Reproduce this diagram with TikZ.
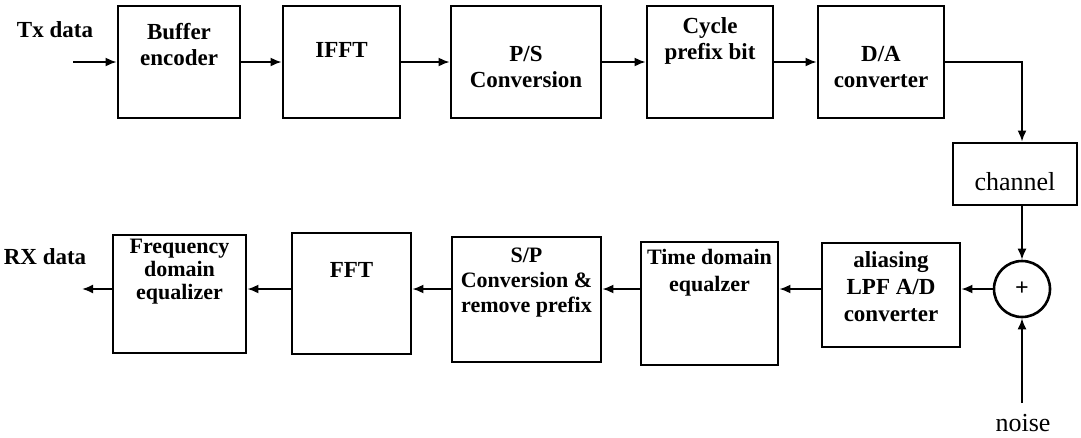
\documentclass[tikz,border=0pt]{standalone}
\usepackage{fontspec}
\setmainfont{Liberation Serif}
\usetikzlibrary{arrows.meta}
\begin{document}
\begin{tikzpicture}[x=1pt,y=-1pt,
    blk/.style={draw,line width=2.8pt,inner sep=0pt},
    lbl/.style={font=\fontsize{23}{26}\selectfont\bfseries,align=center,inner sep=0pt},
    plain/.style={font=\fontsize{26}{30}\selectfont,inner sep=0pt},
    sig/.style={line width=1.9pt,-{Latex[length=11pt,width=9pt]}}]
    \useasboundingbox (0,0) rectangle (1081,437);

    \node[blk,minimum width=122pt,minimum height=112pt] (buf) at (179,62) {};
    \node[blk,minimum width=117pt,minimum height=112pt] (ifft) at (341.5,62) {};
    \node[blk,minimum width=150pt,minimum height=112pt] (ps) at (526,62) {};
    \node[blk,minimum width=126pt,minimum height=112pt] (cp) at (710,62) {};
    \node[blk,minimum width=126pt,minimum height=112pt] (da) at (881,62) {};
    \node[lbl] (buf-t) at (179,44.5) {Buffer\\encoder};
    \node[lbl] (ifft-t) at (341.5,50) {IFFT};
    \node[lbl] (ps-t) at (526,67) {P/S\\Conversion};
    \node[lbl] (cp-t) at (710,41) {Cycle\\prefix bit};
    \node[lbl] (da-t) at (881,67.5) {D/A\\converter};
    \node[lbl] (tx-t) at (55,29.5) {Tx data};

    \node[blk,minimum width=124pt,minimum height=62pt] (chan) at (1015,174) {};
    \node[plain] (chan-t) at (1015,182) {channel};

    \node[blk,minimum width=133pt,minimum height=118pt] (freq) at (179.5,294) {};
    \node[blk,minimum width=119pt,minimum height=121pt] (fft) at (351.5,293.5) {};
    \node[blk,minimum width=149pt,minimum height=125pt] (sp) at (526.5,299.5) {};
    \node[blk,minimum width=137pt,minimum height=123pt] (tde) at (709.5,303.5) {};
    \node[blk,minimum width=138pt,minimum height=104pt] (adc) at (891,295) {};
    \node[lbl,font=\fontsize{22}{23}\selectfont\bfseries] (freq-t) at (179.5,272) {Frequency\\domain\\equalizer};
    \node[lbl] (fft-t) at (351.5,270) {FFT};
    \node[lbl,font=\fontsize{22}{25}\selectfont\bfseries] (sp-t) at (526.5,283) {S/P\\Conversion \&\\remove prefix};
    \node[lbl,font=\fontsize{22}{27}\selectfont\bfseries] (tde-t) at (709.5,272.5) {Time domain\\equalzer};
    \node[lbl,font=\fontsize{23}{27}\selectfont\bfseries] (adc-t) at (891,287) {aliasing\\LPF A/D\\converter};
    \node[lbl] (rx-t) at (45,257) {RX data};

    \node[circle,draw,line width=2.6pt,minimum size=56pt,inner sep=0pt,font=\fontsize{24}{24}\selectfont\bfseries] (sum) at (1022,289) {+};
    \node[plain] (noise-t) at (1023,423) {noise};

    \coordinate (txin) at (73,62);
    \coordinate (rxout) at (82,289);
    \coordinate (noisein) at (1022,403);

    \draw[sig] (txin) -- (buf);
    \draw[sig] (buf) -- (ifft);
    \draw[sig] (ifft) -- (ps);
    \draw[sig] (ps) -- (cp);
    \draw[sig] (cp) -- (da);
    \draw[sig] (da.east) -| (chan.north -| sum);
    \draw[sig] (chan.south -| sum) -- (sum.north);
    \draw[sig] (noisein) -- (sum.south);
    \draw[sig] (sum.west) -- (adc.east |- sum);
    \draw[sig] (adc.west |- sum) -- (tde.east |- sum);
    \draw[sig] (tde.west |- sum) -- (sp.east |- sum);
    \draw[sig] (sp.west |- sum) -- (fft.east |- sum);
    \draw[sig] (fft.west |- sum) -- (freq.east |- sum);
    \draw[sig] (freq.west |- sum) -- (rxout);
\end{tikzpicture}
\end{document}
